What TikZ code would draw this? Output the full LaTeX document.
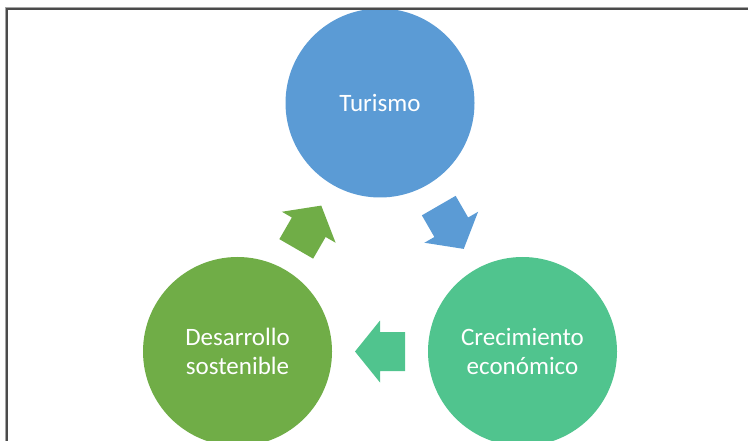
\documentclass[tikz,border=0pt]{standalone}
\usepackage{fontspec}
\setmainfont{Carlito}
\usepackage{tikz}
\usetikzlibrary{calc}
\definecolor{node_blue}{RGB}{91,155,213}
\definecolor{node_green}{RGB}{112,173,71}
\definecolor{node_teal}{RGB}{80,196,142}
\definecolor{frame_gray}{RGB}{75,75,75}
\definecolor{frame_light}{RGB}{165,165,165}
\tikzset{
  cyclearrow/.pic={
    \fill (-25,-19.5) -- (0,-19.5) -- (0,-31) -- (25,0) -- (0,31) -- (0,19.5) -- (-25,19.5) -- cycle;
  }
}
\begin{document}
\begin{tikzpicture}[x=0.75pt,y=-0.75pt]
    \tikzstyle{node}=[circle, minimum size=141.75pt, inner sep=0pt, text=white, align=center, font=\fontsize{18.75pt}{21.4pt}\selectfont]
    \tikzstyle{tu}=[style=node,fill=node_blue]
    \tikzstyle{de}=[style=node,fill=node_green]
    \tikzstyle{cr}=[style=node,fill=node_teal]

    \useasboundingbox (0,0) rectangle (748,441);
    \clip (0,0) rectangle (748,441);
    \node[tu] (tur) at (380,103)     {Turismo};
    \node[de] (des) at (237.5,351.5) {Desarrollo\\sostenible};
    \node[cr] (cre) at (522.5,351.5) {Crecimiento\\económico};
    \pic[node_blue,rotate=-60]  at ($(tur)!0.5!(cre)$) {cyclearrow};
    \pic[node_green,rotate=60]  at ($(des)!0.5!(tur)$) {cyclearrow};
    \pic[node_teal,rotate=180]  at ($(cre)!0.5!(des)$) {cyclearrow};
    \draw[frame_light,line width=0.75pt] (5.4,441) -- (5.4,7.1) -- (748,7.1);
    \draw[frame_gray,line width=1.6pt] (6.6,441) -- (6.6,8.7) -- (748,8.7);
\end{tikzpicture}
\end{document}
